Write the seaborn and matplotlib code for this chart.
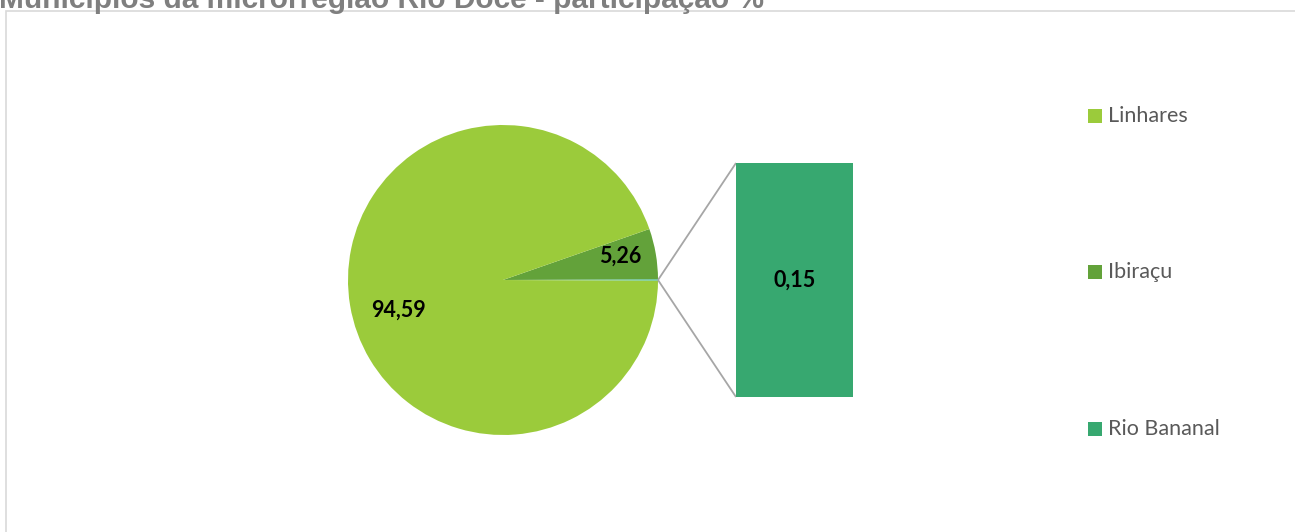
import matplotlib
matplotlib.use("Agg")
import matplotlib.pyplot as plt
from matplotlib.patches import Rectangle
import seaborn as sns
import numpy as np

# Participação dos municípios da microrregião Rio Doce (%)
municipios = ["Linhares", "Ibiraçu", "Rio Bananal"]
participacao = [94.59, 5.26, 0.15]
rotulos = ["94,59", "5,26", "0,15"]
cores = ["#9BCB3B", "#63A23A", "#37A870"]
titulo = "Municípios da microrregião Rio Doce - participação %"

sns.set_theme(style="white")
plt.rcParams["font.family"] = ["Lato", "DejaVu Sans"]

W, H = 1295, 532
fig = plt.figure(figsize=(W / 100, H / 100), dpi=100)
ax = fig.add_axes([0, 0, 1, 1])

# pie: the "other" portion (Rio Bananal) sits centred on the right side
cx, cy, r = 503, H - 280, 155
outro = participacao[2]
pie_vals = [outro, participacao[1], participacao[0]]
start = -outro / 100 * 360 / 2
ax.pie(pie_vals, colors=["#4CC4B4", cores[1], cores[0]],
       startangle=start, counterclock=True, center=(cx, cy),
       radius=r, wedgeprops=dict(linewidth=0), frame=True)
ax.set_xlim(0, W)
ax.set_ylim(0, H)
ax.set_aspect("equal")
ax.axis("off")

# chart frame
ax.add_patch(Rectangle((6, -10), W + 20, H - 11 + 10, fill=False,
                       edgecolor="#D9D9D9", lw=1.2))

# title (partly cut at the top edge)
ax.text(-1, H - 8, titulo, ha="left", va="baseline", fontsize=21.5,
        fontweight="bold", color="#7F7F7F", family="Liberation Sans")

# slice labels
def label_at(theta_deg, frac, txt):
    t = np.deg2rad(theta_deg)
    ax.text(cx + frac * r * np.cos(t), cy + frac * r * np.sin(t), txt,
            ha="center", va="center", fontsize=15.5, fontweight="bold",
            color="black")

label_at(11.5, 0.77, rotulos[1])
label_at(196, 0.70, rotulos[0])

# bar of the "other" portion
bx0, bx1 = 736, 853
by0, by1 = H - 397, H - 163
bar_ax = fig.add_axes([bx0 / W, by0 / H, (bx1 - bx0) / W, (by1 - by0) / H])
sns.barplot(x=[municipios[2]], y=[participacao[2]], ax=bar_ax,
            color=cores[2], width=1.0, saturation=1, linewidth=0)
bar_ax.set_xlim(-0.5, 0.5)
bar_ax.set_ylim(0, participacao[2])
bar_ax.axis("off")
bar_ax.text(0, participacao[2] / 2, rotulos[2], ha="center", va="center",
            fontsize=15.5, fontweight="bold", color="black")

# connector lines from pie edge to bar corners
px, py = cx + r, cy
for yy in (by0, by1):
    ax.plot([px, bx0], [py, yy], color="#A6A6A6", lw=1.3,
            solid_capstyle="butt")

# legend
leg_y = [H - 116, H - 272, H - 429]
for name, col, yy in zip(municipios, cores, leg_y):
    ax.add_patch(Rectangle((1088, yy - 7), 14, 14, color=col, lw=0))
    ax.text(1108, yy, name, ha="left", va="center", fontsize=15.5,
            color="#595959")

fig.savefig("out.png", dpi=100)
